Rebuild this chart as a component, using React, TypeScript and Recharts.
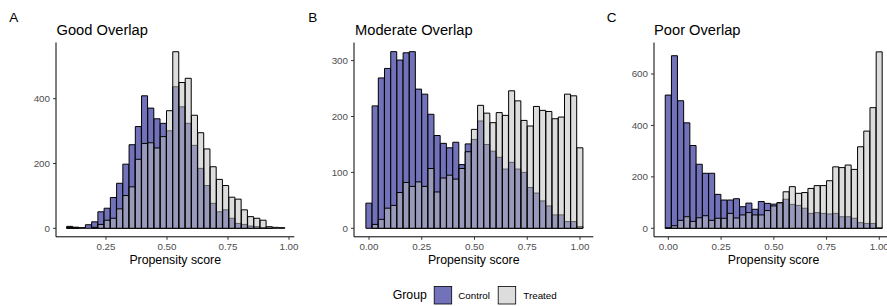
import React from 'react';
import { BarChart, Bar, XAxis, YAxis } from 'recharts';

// ---- Data (counts per histogram bin) ----
const goodControl = [6, 3, 2, 11, 20, 51, 62, 95, 139, 198, 258, 314, 409, 371, 338, 324, 301, 437, 375, 324, 256, 185, 132, 77, 51, 57, 31, 15, 12, 7, 5, 2, 1, 0, 0];
const goodTreated = [2, 3, 0, 0, 3, 12, 25, 31, 60, 101, 128, 213, 262, 264, 248, 283, 363, 545, 450, 463, 349, 295, 245, 190, 151, 132, 96, 90, 57, 36, 31, 25, 5, 3, 2];

const moderateControl = [45, 219, 269, 286, 316, 301, 314, 316, 249, 240, 204, 166, 152, 144, 154, 114, 151, 159, 192, 150, 138, 127, 106, 118, 106, 100, 73, 63, 49, 40, 24, 24, 12, 12, 3];
const moderateTreated = [0, 7, 16, 36, 41, 64, 82, 75, 83, 75, 107, 65, 90, 95, 88, 107, 137, 177, 220, 206, 189, 207, 202, 246, 228, 193, 183, 218, 211, 209, 196, 199, 240, 237, 144];

const poorControl = [518, 671, 496, 410, 322, 249, 214, 214, 132, 110, 110, 115, 84, 98, 74, 104, 97, 94, 97, 113, 93, 89, 78, 58, 61, 58, 56, 58, 45, 45, 39, 22, 19, 19, 3];
const poorTreated = [2, 10, 31, 45, 27, 41, 49, 31, 39, 39, 58, 40, 52, 61, 52, 52, 69, 87, 100, 142, 162, 136, 139, 155, 166, 166, 185, 239, 236, 246, 229, 317, 378, 469, 686];

// histogram bins: first bin centre and last bin centre (35 bins)
const goodBinRange = [0.1017, 0.971];
const moderateBinRange = [0, 1];
const poorBinRange = [0, 1];

const xTicksGood = [0.25, 0.5, 0.75, 1.0];
const xTicksFull = [0, 0.25, 0.5, 0.75, 1.0];
const yTicksGood = [0, 200, 400];
const yTicksModerate = [0, 100, 200, 300];
const yTicksPoor = [0, 200, 400, 600];

const panelLetters = ['A', 'B', 'C'];
const panelTitles = ['Good Overlap', 'Moderate Overlap', 'Poor Overlap'];
const xAxisTitle = 'Propensity score';
const legendTitle = 'Group';
const groupNames = ['Control', 'Treated'];

// ---- Styling ----
const FONT = '"Liberation Sans", Arial, Helvetica, sans-serif';
const CONTROL_FILL = '#7272BA';
const TREATED_FILL = '#BDBDBD';
const TREATED_OPACITY = 0.52;

function buildRows(control: number[], treated: number[], range: number[]) {
  const n = control.length;
  const step = (range[1] - range[0]) / (n - 1);
  return control.map((c, i) => ({ x: range[0] + i * step, control: c, treated: treated[i] }));
}

type PanelCfg = {
  left: number;
  ml: number;
  mr: number;
  control: number[];
  treated: number[];
  bins: number[];
  xDomain: [number, number];
  xTicks: number[];
  yDomain: [number, number];
  yTicks: number[];
};

const panels: PanelCfg[] = [
  { left: 0, ml: 16, mr: 5.7, control: goodControl, treated: goodTreated, bins: goodBinRange, xDomain: [0.0451, 1.0217], xTicks: xTicksGood, yDomain: [-26.2, 573.5], yTicks: yTicksGood },
  { left: 300, ml: 14, mr: 6.7, control: moderateControl, treated: moderateTreated, bins: moderateBinRange, xDomain: [-0.0711, 1.063], xTicks: xTicksFull, yDomain: [-15.2, 332.4], yTicks: yTicksModerate },
  { left: 600, ml: 14, mr: 7, control: poorControl, treated: poorTreated, bins: poorBinRange, xDomain: [-0.068, 1.065], xTicks: xTicksFull, yDomain: [-33.0, 722.4], yTicks: yTicksPoor },
];

const tickStyle = { fill: '#4D4D4D', fontSize: 9.8, fontFamily: FONT };

function Panel({ cfg }: { cfg: PanelCfg }) {
  const data = buildRows(cfg.control, cfg.treated, cfg.bins);
  return (
    <div style={{ position: 'absolute', left: cfg.left, top: 0 }}>
      <BarChart
        width={300}
        height={270}
        data={data}
        margin={{ top: 42.5, right: cfg.mr, bottom: 3.2, left: cfg.ml }}
        barCategoryGap={0}
        barGap={0}
      >
        <XAxis
          xAxisId="c"
          dataKey="x"
          type="number"
          domain={cfg.xDomain}
          allowDataOverflow
          ticks={cfg.xTicks}
          interval={0}
          tickFormatter={(v: number) => v.toFixed(2)}
          height={30}
          tickSize={3}
          tickMargin={3.5}
          tick={tickStyle}
          axisLine={{ stroke: '#000', strokeWidth: 1 }}
          tickLine={{ stroke: '#333', strokeWidth: 1 }}
        />
        <XAxis xAxisId="t" dataKey="x" type="number" domain={cfg.xDomain} allowDataOverflow hide />
        <YAxis
          type="number"
          domain={cfg.yDomain}
          allowDataOverflow
          ticks={cfg.yTicks}
          interval={0}
          width={40}
          tickSize={3}
          tickMargin={3}
          tick={tickStyle}
          axisLine={{ stroke: '#000', strokeWidth: 1 }}
          tickLine={{ stroke: '#333', strokeWidth: 1 }}
        />
        <Bar xAxisId="c" dataKey="control" fill={CONTROL_FILL} stroke="#000" strokeWidth={1} isAnimationActive={false} />
        <Bar xAxisId="t" dataKey="treated" fill={TREATED_FILL} fillOpacity={TREATED_OPACITY} stroke="#000" strokeWidth={1} isAnimationActive={false} />
      </BarChart>
    </div>
  );
}

const letterX = [9.3, 308.3, 606.7];
const titleX = [56.5, 355, 654];
const plotCenters = [175.2, 473.7, 773.5];

export default function App() {
  return (
    <div style={{ position: 'absolute', left: 0, top: 0, width: 887, height: 306, overflow: 'hidden', background: '#fff' }}>
      {panels.map((p, i) => (
        <Panel key={i} cfg={p} />
      ))}
      <svg width={887} height={306} style={{ position: 'absolute', left: 0, top: 0, pointerEvents: 'none' }} fontFamily={FONT}>
        {panelLetters.map((l, i) => (
          <text key={'l' + i} x={letterX[i]} y={21.5} fontSize={13.5} fill="#000">{l}</text>
        ))}
        {panelTitles.map((t, i) => (
          <text key={'t' + i} x={titleX[i]} y={35} fontSize={14.7} fill="#000">{t}</text>
        ))}
        {plotCenters.map((cx, i) => (
          <text key={'a' + i} x={cx} y={264} fontSize={12.3} fill="#000" textAnchor="middle">{xAxisTitle}</text>
        ))}
        <text x={392.7} y={298.8} fontSize={12.3} fill="#000">{legendTitle}</text>
        <rect x={434.2} y={286.5} width={17.5} height={17.5} fill={CONTROL_FILL} stroke="#000" strokeWidth={0.8} />
        <text x={458.3} y={299} fontSize={9.8} fill="#000">{groupNames[0]}</text>
        <rect x={498.2} y={286.5} width={17.5} height={17.5} fill={TREATED_FILL} fillOpacity={TREATED_OPACITY} stroke="#000" strokeWidth={0.8} />
        <text x={523.3} y={299} fontSize={9.8} fill="#000">{groupNames[1]}</text>
      </svg>
    </div>
  );
}
